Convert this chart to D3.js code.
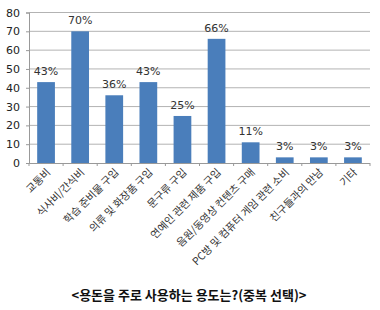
<!DOCTYPE html>
<html>
<head>
<meta charset="utf-8">
<script src="https://cdn.jsdelivr.net/npm/d3@7"></script>
<style>
  body { margin: 0; background: #fff; }
  .axis text { font-family: "DejaVu Sans", "Noto Sans CJK KR", sans-serif; font-size: 11px; fill: #222; }
  .label { font-family: "Noto Sans CJK KR", sans-serif; font-size: 10.5px; fill: #333; }
  .value { font-family: "DejaVu Sans", sans-serif; font-size: 11px; fill: #333; }
  .title { font-family: "Noto Sans CJK KR", sans-serif; font-size: 13px; font-weight: bold; fill: #111; }
</style>
</head>
<body>
<div class="container"></div>
<script>
(function(){

var categories = ["교통비", "식사비/간식비", "학습 준비물 구입", "의류 및 화장품 구입", "문구류 구입",
  "연예인 관련 제품 구입", "음원/동영상 컨텐츠 구매", "PC방 및 컴퓨터 게임 관련 소비", "친구들과의 만남", "기타"];
var values = [43, 70, 36, 43, 25, 66, 11, 3, 3, 3];
var yTicks = [0, 10, 20, 30, 40, 50, 60, 70, 80];
var titleText = "<용돈을 주로 사용하는 용도는?(중복 선택)>";

var width = 380,
    height = 310,
    left = 29,
    right = 370,
    top = 12.5,
    bottom = 163;

var svg = d3.select(".container")
  .append("svg")
  .attr("width", width)
  .attr("height", height);

var x = d3.scaleBand()
  .domain(categories)
  .range([left, right])
  .paddingInner(0.48)
  .paddingOuter(0.24);

var y = d3.scaleLinear()
  .domain([0, 80])
  .range([bottom, top]);

// gridlines
svg.selectAll(".grid")
  .data(yTicks.slice(1))
  .enter()
  .append("line")
  .attr("x1", left)
  .attr("x2", right)
  .attr("y1", function(d){ return y(d); })
  .attr("y2", function(d){ return y(d); })
  .attr("stroke", "#b3b3b3")
  .attr("stroke-width", 1);

// y axis
var yAxis = svg.append("g")
  .attr("class", "axis")
  .attr("transform", "translate(" + left + ",0)")
  .call(d3.axisLeft(y).tickValues(yTicks).tickSize(3).tickPadding(6));
yAxis.select(".domain").attr("stroke", "#999");
yAxis.selectAll(".tick line").attr("stroke", "#999");

// bars
svg.selectAll(".bar")
  .data(values)
  .enter()
  .append("rect")
  .attr("class", "bar")
  .attr("x", function(d, i){ return x(categories[i]); })
  .attr("width", x.bandwidth())
  .attr("y", function(d){ return y(d); })
  .attr("height", function(d){ return y(0) - y(d); })
  .attr("fill", "#4a7ebb");

// x axis
var step = x.step();
svg.append("line")
  .attr("x1", left).attr("x2", right)
  .attr("y1", bottom + 0.5).attr("y2", bottom + 0.5)
  .attr("stroke", "#999");
svg.selectAll(".xtick")
  .data(d3.range(categories.length + 1))
  .enter()
  .append("line")
  .attr("x1", function(i){ return left + i * step; })
  .attr("x2", function(i){ return left + i * step; })
  .attr("y1", bottom)
  .attr("y2", bottom + 3)
  .attr("stroke", "#999");

// value labels
svg.selectAll(".value")
  .data(values)
  .enter()
  .append("text")
  .attr("class", "value")
  .attr("text-anchor", "middle")
  .attr("x", function(d, i){ return x(categories[i]) + x.bandwidth() / 2; })
  .attr("y", function(d){ return y(d) - 7; })
  .text(function(d){ return d + "%"; });

// category labels
svg.selectAll(".label")
  .data(categories)
  .enter()
  .append("text")
  .attr("class", "label")
  .attr("text-anchor", "end")
  .attr("transform", function(d){
    var cx = x(d) + x.bandwidth() / 2 + 5;
    return "translate(" + cx + "," + (bottom + 10) + ") rotate(-45)";
  })
  .text(function(d){ return d; });

svg.append("text")
  .attr("class", "title")
  .attr("x", 189)
  .attr("y", 300)
  .attr("text-anchor", "middle")
  .text(titleText);

})();
</script>
</body>
</html>
